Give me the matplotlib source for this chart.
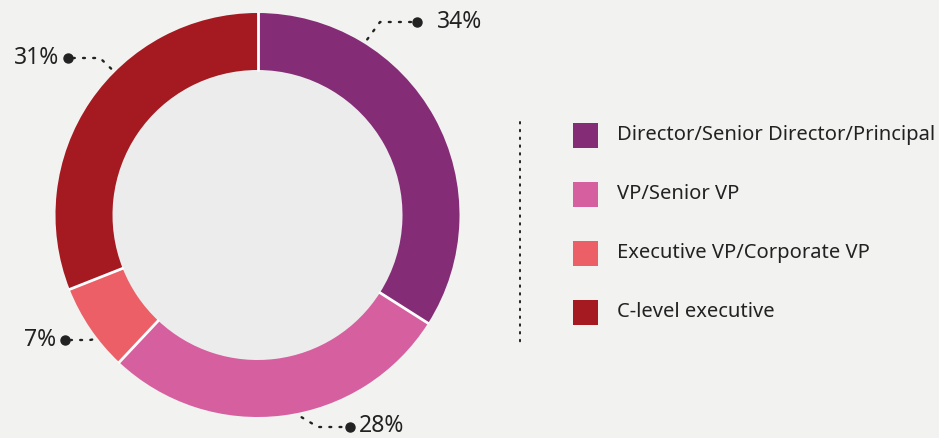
import matplotlib
matplotlib.use("Agg")
import matplotlib.pyplot as plt
import numpy as np

categories = ["Director/Senior Director/Principal", "VP/Senior VP",
              "Executive VP/Corporate VP", "C-level executive"]
values = [34, 28, 7, 31]
labels = ["34%", "28%", "7%", "31%"]
colors = ["#852c77", "#d65fa0", "#ec5f67", "#a51921"]

BG = "#f2f2f0"
INNER = "#ececec"
TXT = "#222222"

W, H = 939, 438
fig = plt.figure(figsize=(W / 100, H / 100), dpi=100, facecolor=BG)
ax = fig.add_axes([0, 0, 1, 1])
ax.set_facecolor(BG)

cx, cy = 257.5, H - 215
R = 202
ring = 57

ax.add_patch(plt.Circle((cx, cy), R - ring, color=INNER, zorder=0))
ax.pie(values, colors=colors, startangle=90, counterclock=False,
       center=(cx, cy), radius=R,
       wedgeprops=dict(width=ring, linewidth=0))

# white radial separators
bounds = 90 - 360 * np.cumsum([0] + values[:-1]) / sum(values)
for b in bounds:
    a = np.deg2rad(b)
    ax.plot([cx + (R - ring - 1) * np.cos(a), cx + (R + 1) * np.cos(a)],
            [cy + (R - ring - 1) * np.sin(a), cy + (R + 1) * np.sin(a)],
            color="white", lw=2.0, solid_capstyle="butt", zorder=2)

ax.set_xlim(0, W)
ax.set_ylim(0, H)
ax.set_aspect("equal")
ax.axis("off")

plt.rcParams["font.family"] = ["Noto Sans", "DejaVu Sans"]

# leader layout: (start angle deg, elbow px, dot px, text px, ha)
leaders = [
    (58, (380, 22), (417, 22), (437, 22), "left"),
    (-77.7, (318, 427), (350, 427), (359, 426), "left"),
    (-143, (90, 340), (65, 340), (56, 340), "right"),
    (135, (100, 58), (68, 58), (59, 58), "right"),
]
for (ang, elbow, dot, tpos, ha), lab in zip(leaders, labels):
    a = np.deg2rad(ang)
    sx, sy = cx + 207 * np.cos(a), cy + 207 * np.sin(a)
    ex, ey = elbow[0], H - elbow[1]
    dx, dy = dot[0], H - dot[1]
    ax.plot([sx, ex, dx], [sy, ey, dy], color=TXT, lw=1.7,
            linestyle=(0, (0.8, 3.5)), dash_capstyle="round", zorder=3)
    ax.plot([dx], [dy], "o", color=TXT, markersize=6.5, zorder=4)
    ax.text(tpos[0], H - tpos[1], lab, ha=ha, va="center", fontsize=16.5,
            color=TXT, family=["Noto Sans", "DejaVu Sans"])

# dotted separator
ax.plot([520, 520], [H - 122, H - 345], color=TXT, lw=1.4,
        linestyle=(0, (0.8, 3.2)), dash_capstyle="round")

# legend
ys = [135, 194, 253, 312]
for y, c, name in zip(ys, colors, categories):
    ax.add_patch(plt.Rectangle((573, H - y - 12.5), 25, 25, color=c, lw=0))
    ax.text(617, H - y, name, ha="left", va="center", fontsize=14.5,
            color=TXT, family=["Noto Sans", "DejaVu Sans"])

fig.savefig("out.png", dpi=100, facecolor=BG)
